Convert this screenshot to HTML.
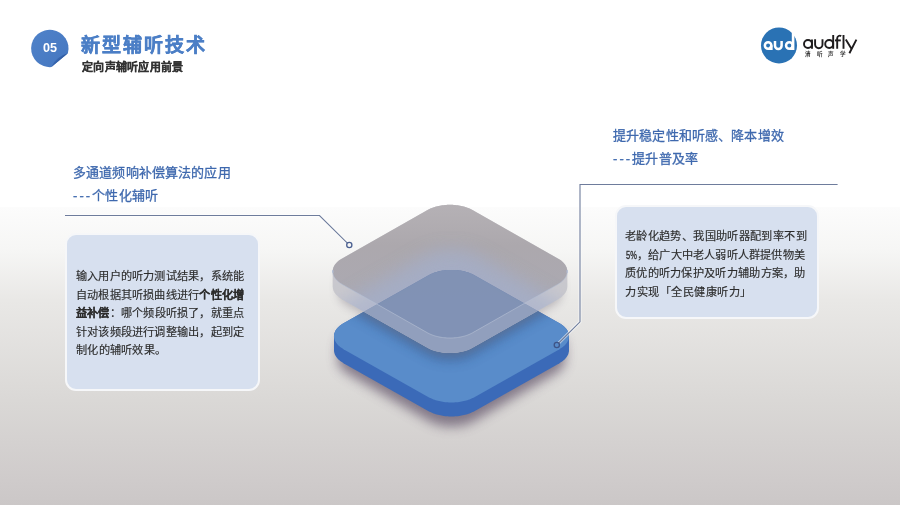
<!DOCTYPE html>
<html lang="zh-CN">
<head>
<meta charset="utf-8">
<style>
html,body{margin:0;padding:0;}
body{width:900px;height:505px;overflow:hidden;position:relative;
  font-family:"Liberation Sans",sans-serif;
  background:linear-gradient(180deg,#ffffff 0px,#ffffff 207px,#fcfcfc 207px,#f6f6f5 250px,#e9e8e6 300px,#dad8d6 400px,#cfcbcb 480px,#cbc7c7 505px);}
.abs{position:absolute;will-change:transform;}
.title{left:81px;top:30px;font-size:19px;font-weight:bold;color:#4c7fc6;white-space:nowrap;letter-spacing:2px;-webkit-text-stroke:0.45px #4c7fc6;}
.sub{left:82px;top:58px;font-size:11px;font-weight:bold;color:#333;white-space:nowrap;letter-spacing:0.25px;-webkit-text-stroke:0.25px #333;}
.h{letter-spacing:0.15px;font-size:13px;color:#3f69ae;white-space:nowrap;line-height:23px;font-weight:500;-webkit-text-stroke:0.3px #3f69ae;}
.dash{letter-spacing:2.1px;}
.box{background:#d7e0ef;border:2px solid #f6f7f9;border-radius:11px;box-sizing:border-box;}
.j{white-space:nowrap;}
.pct{display:inline-block;width:12px;}
.pct i{font-style:normal;display:inline-block;transform:scaleX(0.64);transform-origin:0 0;font-size:11.7px;letter-spacing:0;margin-left:0.8px;-webkit-text-stroke:0.35px #2c2c2c;}
.txt{font-size:11.2px;color:#2c2c2c;line-height:18.6px;-webkit-text-stroke:0.15px #2c2c2c;}
</style>
</head>
<body>
<!-- badge -->
<svg class="abs" style="left:0;top:0" width="900" height="505">
  <defs>
    <linearGradient id="bg05" x1="0" y1="0" x2="1" y2="1">
      <stop offset="0" stop-color="#4f82c9"/>
      <stop offset="1" stop-color="#4577c0"/>
    </linearGradient>
    <linearGradient id="curl" x1="54" y1="56" x2="60" y2="62" gradientUnits="userSpaceOnUse">
      <stop offset="0" stop-color="#4a7cc4"/>
      <stop offset="0.6" stop-color="#3766b0"/>
      <stop offset="1" stop-color="#2a5598"/>
    </linearGradient>
  </defs>
  <path d="M67.9,53.3 A18.7,18.7 0 1 0 51.4,67.1 Z" fill="url(#bg05)"/>
  <path d="M67.9,53.3 L51.4,67.1 Q55.5,56.5 67.9,53.3 Z" fill="url(#curl)"/>
  <text x="50" y="52" font-family="Liberation Sans" font-weight="bold" font-size="12.6" fill="#fff" text-anchor="middle">05</text>
  <!-- logo -->
  <circle cx="779" cy="45.4" r="18" fill="#2a72b4"/>
  <g fill="none" stroke="#fff" stroke-width="2.5">
    <circle cx="768.1" cy="45.5" r="3.25"/>
    <path d="M775,41 V45.7 A3.3 3.3 0 0 0 781.6,45.7 V41"/>
    <circle cx="789.3" cy="45.5" r="3.25"/>
  </g>
  <path d="M770.2,45.5 H772.6 V50.1 H768.1 Z" fill="#fff"/>
  <path d="M791.8,32.6 L794.4,33.6 L794.4,50.1 L789.3,50.1 L791.8,47 Z" fill="#fff"/>
  <g fill="none" stroke="#1e1c1d" stroke-width="1.9">
    <circle cx="808" cy="44" r="4"/>
    <path d="M812,39.6 V48.8"/>
    <path d="M815.1,39.3 V44.5 A3.7 3.7 0 0 0 822.5,44.5 V39.3"/>
    <circle cx="829.2" cy="44" r="4"/>
    <path d="M833.2,35 V48.8"/>
    <path d="M837.2,48.8 V38.2 A2.6 2.6 0 0 1 841.2,36.1"/>
    <path d="M835,40.4 H840.8"/>
    <path d="M843.5,35 V48.8"/>
    <path d="M845.8,39.6 L851.3,48.6 M856.4,39.6 L849.4,53.3"/>
  </g>
  <text x="805" y="56" font-size="5.6" font-weight="bold" fill="#3a3a3a" letter-spacing="5.5">清听声学</text>
</svg>
<div class="abs title">新型辅听技术</div>
<div class="abs sub">定向声辅听应用前景</div>

<svg class="abs" style="left:0;top:0" width="900" height="505">
  <defs>
    <filter id="blur10" x="-50%" y="-50%" width="200%" height="200%"><feGaussianBlur stdDeviation="9"/></filter>
    <filter id="blur8" x="-50%" y="-50%" width="200%" height="200%"><feGaussianBlur stdDeviation="6"/></filter>
    <filter id="blur4" x="-50%" y="-50%" width="200%" height="200%"><feGaussianBlur stdDeviation="5"/></filter>
    <filter id="blur05" x="-10%" y="-10%" width="120%" height="120%"><feGaussianBlur stdDeviation="0.5"/></filter>
    <clipPath id="gclip"><path d="M332.70,271.40 L332.72,270.68 L332.80,269.96 L332.92,269.24 L333.10,268.53 L333.32,267.82 L333.59,267.11 L333.91,266.41 L334.28,265.72 L334.70,265.04 L335.16,264.37 L335.67,263.71 L336.23,263.06 L336.82,262.43 L337.47,261.80 L338.15,261.20 L338.88,260.61 L339.64,260.03 L340.45,259.47 L341.29,258.93 L342.17,258.41 L427.13,210.18 L428.04,209.68 L428.99,209.20 L429.97,208.74 L430.99,208.31 L432.03,207.89 L433.10,207.51 L434.19,207.14 L435.32,206.80 L436.46,206.49 L437.62,206.20 L438.80,205.93 L440.00,205.70 L441.22,205.49 L442.45,205.31 L443.69,205.15 L444.94,205.03 L446.20,204.93 L447.46,204.86 L448.73,204.81 L450.00,204.80 L451.27,204.81 L452.54,204.86 L453.80,204.93 L455.06,205.03 L456.31,205.15 L457.55,205.31 L458.78,205.49 L460.00,205.70 L461.20,205.93 L462.38,206.20 L463.54,206.49 L464.68,206.80 L465.81,207.14 L466.90,207.51 L467.97,207.89 L469.01,208.31 L470.03,208.74 L471.01,209.20 L471.96,209.68 L472.87,210.18 L557.83,258.41 L558.71,258.93 L559.55,259.47 L560.36,260.03 L561.12,260.61 L561.85,261.20 L562.53,261.80 L563.18,262.43 L563.77,263.06 L564.33,263.71 L564.84,264.37 L565.30,265.04 L565.72,265.72 L566.09,266.41 L566.41,267.11 L566.68,267.82 L566.90,268.53 L567.08,269.24 L567.20,269.96 L567.28,270.68 L567.30,271.40 L567.30,286.40 L567.28,287.12 L567.20,287.84 L567.08,288.56 L566.90,289.27 L566.68,289.98 L566.41,290.69 L566.09,291.39 L565.72,292.08 L565.30,292.76 L564.84,293.43 L564.33,294.09 L563.77,294.74 L563.18,295.37 L562.53,296.00 L561.85,296.60 L561.12,297.19 L560.36,297.77 L559.55,298.33 L558.71,298.87 L557.83,299.39 L472.87,347.62 L471.96,348.12 L471.01,348.60 L470.03,349.06 L469.01,349.49 L467.97,349.91 L466.90,350.29 L465.81,350.66 L464.68,351.00 L463.54,351.31 L462.38,351.60 L461.20,351.87 L460.00,352.10 L458.78,352.31 L457.55,352.49 L456.31,352.65 L455.06,352.77 L453.80,352.87 L452.54,352.94 L451.27,352.99 L450.00,353.00 L448.73,352.99 L447.46,352.94 L446.20,352.87 L444.94,352.77 L443.69,352.65 L442.45,352.49 L441.22,352.31 L440.00,352.10 L438.80,351.87 L437.62,351.60 L436.46,351.31 L435.32,351.00 L434.19,350.66 L433.10,350.29 L432.03,349.91 L430.99,349.49 L429.97,349.06 L428.99,348.60 L428.04,348.12 L427.13,347.62 L342.17,299.39 L341.29,298.87 L340.45,298.33 L339.64,297.77 L338.88,297.19 L338.15,296.60 L337.47,296.00 L336.82,295.37 L336.23,294.74 L335.67,294.09 L335.16,293.43 L334.70,292.76 L334.28,292.08 L333.91,291.39 L333.59,290.69 L333.32,289.98 L333.10,289.27 L332.92,288.56 L332.80,287.84 L332.72,287.12 L332.70,286.40 Z"/></clipPath>
    <linearGradient id="gface" x1="0" y1="205" x2="0" y2="340" gradientUnits="userSpaceOnUse">
      <stop offset="0" stop-color="#b5b1b5"/>
      <stop offset="0.3" stop-color="#aca8ad"/>
      <stop offset="1" stop-color="#aaaab6"/>
    </linearGradient>
    <radialGradient id="glow" cx="451" cy="300" r="70" gradientUnits="userSpaceOnUse" gradientTransform="translate(451 300) scale(1.6 1) translate(-451 -300)">
      <stop offset="0" stop-color="#a8b8d8" stop-opacity="0.9"/>
      <stop offset="0.6" stop-color="#a8b4d0" stop-opacity="0.6"/>
      <stop offset="1" stop-color="#a8b0c8" stop-opacity="0"/>
    </radialGradient>
  </defs>
  <path d="M338.00,346.20 L338.02,345.48 L338.10,344.77 L338.22,344.05 L338.39,343.34 L338.60,342.63 L338.86,341.93 L339.17,341.24 L339.53,340.55 L339.93,339.87 L340.38,339.20 L340.87,338.55 L341.41,337.90 L341.99,337.27 L342.61,336.65 L343.27,336.04 L343.98,335.45 L344.72,334.88 L345.50,334.33 L346.31,333.79 L347.17,333.27 L429.37,285.25 L430.25,284.76 L431.17,284.28 L432.12,283.82 L433.10,283.39 L434.11,282.98 L435.15,282.59 L436.21,282.23 L437.29,281.89 L438.40,281.58 L439.52,281.29 L440.67,281.03 L441.83,280.79 L443.00,280.59 L444.19,280.40 L445.39,280.25 L446.60,280.12 L447.82,280.03 L449.04,279.96 L450.27,279.91 L451.50,279.90 L452.73,279.91 L453.96,279.96 L455.18,280.03 L456.40,280.12 L457.61,280.25 L458.81,280.40 L460.00,280.59 L461.17,280.79 L462.33,281.03 L463.48,281.29 L464.60,281.58 L465.71,281.89 L466.79,282.23 L467.85,282.59 L468.89,282.98 L469.90,283.39 L470.88,283.82 L471.83,284.28 L472.75,284.76 L473.63,285.25 L555.83,333.27 L556.69,333.79 L557.50,334.33 L558.28,334.88 L559.02,335.45 L559.73,336.04 L560.39,336.65 L561.01,337.27 L561.59,337.90 L562.13,338.55 L562.62,339.20 L563.07,339.87 L563.47,340.55 L563.83,341.24 L564.14,341.93 L564.40,342.63 L564.61,343.34 L564.78,344.05 L564.90,344.77 L564.98,345.48 L565.00,346.20 L565.00,360.20 L564.98,360.92 L564.90,361.63 L564.78,362.35 L564.61,363.06 L564.40,363.77 L564.14,364.47 L563.83,365.16 L563.47,365.85 L563.07,366.53 L562.62,367.20 L562.13,367.85 L561.59,368.50 L561.01,369.13 L560.39,369.75 L559.73,370.36 L559.02,370.95 L558.28,371.52 L557.50,372.07 L556.69,372.61 L555.83,373.13 L473.63,421.15 L472.75,421.64 L471.83,422.12 L470.88,422.58 L469.90,423.01 L468.89,423.42 L467.85,423.81 L466.79,424.17 L465.71,424.51 L464.60,424.82 L463.48,425.11 L462.33,425.37 L461.17,425.61 L460.00,425.81 L458.81,426.00 L457.61,426.15 L456.40,426.28 L455.18,426.37 L453.96,426.44 L452.73,426.49 L451.50,426.50 L450.27,426.49 L449.04,426.44 L447.82,426.37 L446.60,426.28 L445.39,426.15 L444.19,426.00 L443.00,425.81 L441.83,425.61 L440.67,425.37 L439.52,425.11 L438.40,424.82 L437.29,424.51 L436.21,424.17 L435.15,423.81 L434.11,423.42 L433.10,423.01 L432.12,422.58 L431.17,422.12 L430.25,421.64 L429.37,421.15 L347.17,373.13 L346.31,372.61 L345.50,372.07 L344.72,371.52 L343.98,370.95 L343.27,370.36 L342.61,369.75 L341.99,369.13 L341.41,368.50 L340.87,367.85 L340.38,367.20 L339.93,366.53 L339.53,365.85 L339.17,365.16 L338.86,364.47 L338.60,363.77 L338.39,363.06 L338.22,362.35 L338.10,361.63 L338.02,360.92 L338.00,360.20 Z" fill="#5d4f66" opacity="0.7" filter="url(#blur8)"/>
  <path d="M334.00,336.20 L334.02,335.48 L334.10,334.77 L334.22,334.05 L334.40,333.34 L334.62,332.63 L334.89,331.93 L335.22,331.24 L335.59,330.55 L336.00,329.87 L336.47,329.20 L336.98,328.55 L337.53,327.90 L338.13,327.27 L338.77,326.65 L339.46,326.04 L340.19,325.45 L340.96,324.88 L341.76,324.33 L342.61,323.79 L343.49,323.27 L428.59,275.25 L429.51,274.76 L430.46,274.28 L431.44,273.82 L432.45,273.39 L433.50,272.98 L434.57,272.59 L435.67,272.23 L436.79,271.89 L437.93,271.58 L439.10,271.29 L440.29,271.03 L441.49,270.79 L442.70,270.59 L443.94,270.40 L445.18,270.25 L446.43,270.12 L447.69,270.03 L448.96,269.96 L450.23,269.91 L451.50,269.90 L452.77,269.91 L454.04,269.96 L455.31,270.03 L456.57,270.12 L457.82,270.25 L459.06,270.40 L460.30,270.59 L461.51,270.79 L462.71,271.03 L463.90,271.29 L465.07,271.58 L466.21,271.89 L467.33,272.23 L468.43,272.59 L469.50,272.98 L470.55,273.39 L471.56,273.82 L472.54,274.28 L473.49,274.76 L474.41,275.25 L559.51,323.27 L560.39,323.79 L561.24,324.33 L562.04,324.88 L562.81,325.45 L563.54,326.04 L564.23,326.65 L564.87,327.27 L565.47,327.90 L566.02,328.55 L566.53,329.20 L567.00,329.87 L567.41,330.55 L567.78,331.24 L568.11,331.93 L568.38,332.63 L568.60,333.34 L568.78,334.05 L568.90,334.77 L568.98,335.48 L569.00,336.20 L569.00,350.20 L568.98,350.92 L568.90,351.63 L568.78,352.35 L568.60,353.06 L568.38,353.77 L568.11,354.47 L567.78,355.16 L567.41,355.85 L567.00,356.53 L566.53,357.20 L566.02,357.85 L565.47,358.50 L564.87,359.13 L564.23,359.75 L563.54,360.36 L562.81,360.95 L562.04,361.52 L561.24,362.07 L560.39,362.61 L559.51,363.13 L474.41,411.15 L473.49,411.64 L472.54,412.12 L471.56,412.58 L470.55,413.01 L469.50,413.42 L468.43,413.81 L467.33,414.17 L466.21,414.51 L465.07,414.82 L463.90,415.11 L462.71,415.37 L461.51,415.61 L460.30,415.81 L459.06,416.00 L457.82,416.15 L456.57,416.28 L455.31,416.37 L454.04,416.44 L452.77,416.49 L451.50,416.50 L450.23,416.49 L448.96,416.44 L447.69,416.37 L446.43,416.28 L445.18,416.15 L443.94,416.00 L442.70,415.81 L441.49,415.61 L440.29,415.37 L439.10,415.11 L437.93,414.82 L436.79,414.51 L435.67,414.17 L434.57,413.81 L433.50,413.42 L432.45,413.01 L431.44,412.58 L430.46,412.12 L429.51,411.64 L428.59,411.15 L343.49,363.13 L342.61,362.61 L341.76,362.07 L340.96,361.52 L340.19,360.95 L339.46,360.36 L338.77,359.75 L338.13,359.13 L337.53,358.50 L336.98,357.85 L336.47,357.20 L336.00,356.53 L335.59,355.85 L335.22,355.16 L334.89,354.47 L334.62,353.77 L334.40,353.06 L334.22,352.35 L334.10,351.63 L334.02,350.92 L334.00,350.20 Z" fill="#3b6ab8"/>
  <path d="M559.51,323.27 L560.39,323.79 L561.24,324.33 L562.04,324.88 L562.81,325.45 L563.54,326.04 L564.23,326.65 L564.87,327.27 L565.47,327.90 L566.02,328.55 L566.53,329.20 L567.00,329.87 L567.41,330.55 L567.78,331.24 L568.11,331.93 L568.38,332.63 L568.60,333.34 L568.78,334.05 L568.90,334.77 L568.98,335.48 L569.00,336.20 L568.98,336.92 L568.90,337.63 L568.78,338.35 L568.60,339.06 L568.38,339.77 L568.11,340.47 L567.78,341.16 L567.41,341.85 L567.00,342.53 L566.53,343.20 L566.02,343.85 L565.47,344.50 L564.87,345.13 L564.23,345.75 L563.54,346.36 L562.81,346.95 L562.04,347.52 L561.24,348.07 L560.39,348.61 L559.51,349.13 L474.41,397.15 L473.49,397.64 L472.54,398.12 L471.56,398.58 L470.55,399.01 L469.50,399.42 L468.43,399.81 L467.33,400.17 L466.21,400.51 L465.07,400.82 L463.90,401.11 L462.71,401.37 L461.51,401.61 L460.30,401.81 L459.06,402.00 L457.82,402.15 L456.57,402.28 L455.31,402.37 L454.04,402.44 L452.77,402.49 L451.50,402.50 L450.23,402.49 L448.96,402.44 L447.69,402.37 L446.43,402.28 L445.18,402.15 L443.94,402.00 L442.70,401.81 L441.49,401.61 L440.29,401.37 L439.10,401.11 L437.93,400.82 L436.79,400.51 L435.67,400.17 L434.57,399.81 L433.50,399.42 L432.45,399.01 L431.44,398.58 L430.46,398.12 L429.51,397.64 L428.59,397.15 L343.49,349.13 L342.61,348.61 L341.76,348.07 L340.96,347.52 L340.19,346.95 L339.46,346.36 L338.77,345.75 L338.13,345.13 L337.53,344.50 L336.98,343.85 L336.47,343.20 L336.00,342.53 L335.59,341.85 L335.22,341.16 L334.89,340.47 L334.62,339.77 L334.40,339.06 L334.22,338.35 L334.10,337.63 L334.02,336.92 L334.00,336.20 L334.02,335.48 L334.10,334.77 L334.22,334.05 L334.40,333.34 L334.62,332.63 L334.89,331.93 L335.22,331.24 L335.59,330.55 L336.00,329.87 L336.47,329.20 L336.98,328.55 L337.53,327.90 L338.13,327.27 L338.77,326.65 L339.46,326.04 L340.19,325.45 L340.96,324.88 L341.76,324.33 L342.61,323.79 L343.49,323.27 L428.59,275.25 L429.51,274.76 L430.46,274.28 L431.44,273.82 L432.45,273.39 L433.50,272.98 L434.57,272.59 L435.67,272.23 L436.79,271.89 L437.93,271.58 L439.10,271.29 L440.29,271.03 L441.49,270.79 L442.70,270.59 L443.94,270.40 L445.18,270.25 L446.43,270.12 L447.69,270.03 L448.96,269.96 L450.23,269.91 L451.50,269.90 L452.77,269.91 L454.04,269.96 L455.31,270.03 L456.57,270.12 L457.82,270.25 L459.06,270.40 L460.30,270.59 L461.51,270.79 L462.71,271.03 L463.90,271.29 L465.07,271.58 L466.21,271.89 L467.33,272.23 L468.43,272.59 L469.50,272.98 L470.55,273.39 L471.56,273.82 L472.54,274.28 L473.49,274.76 L474.41,275.25 Z" fill="#598cca"/>
  <clipPath id="bclip"><path d="M559.51,323.27 L560.39,323.79 L561.24,324.33 L562.04,324.88 L562.81,325.45 L563.54,326.04 L564.23,326.65 L564.87,327.27 L565.47,327.90 L566.02,328.55 L566.53,329.20 L567.00,329.87 L567.41,330.55 L567.78,331.24 L568.11,331.93 L568.38,332.63 L568.60,333.34 L568.78,334.05 L568.90,334.77 L568.98,335.48 L569.00,336.20 L568.98,336.92 L568.90,337.63 L568.78,338.35 L568.60,339.06 L568.38,339.77 L568.11,340.47 L567.78,341.16 L567.41,341.85 L567.00,342.53 L566.53,343.20 L566.02,343.85 L565.47,344.50 L564.87,345.13 L564.23,345.75 L563.54,346.36 L562.81,346.95 L562.04,347.52 L561.24,348.07 L560.39,348.61 L559.51,349.13 L474.41,397.15 L473.49,397.64 L472.54,398.12 L471.56,398.58 L470.55,399.01 L469.50,399.42 L468.43,399.81 L467.33,400.17 L466.21,400.51 L465.07,400.82 L463.90,401.11 L462.71,401.37 L461.51,401.61 L460.30,401.81 L459.06,402.00 L457.82,402.15 L456.57,402.28 L455.31,402.37 L454.04,402.44 L452.77,402.49 L451.50,402.50 L450.23,402.49 L448.96,402.44 L447.69,402.37 L446.43,402.28 L445.18,402.15 L443.94,402.00 L442.70,401.81 L441.49,401.61 L440.29,401.37 L439.10,401.11 L437.93,400.82 L436.79,400.51 L435.67,400.17 L434.57,399.81 L433.50,399.42 L432.45,399.01 L431.44,398.58 L430.46,398.12 L429.51,397.64 L428.59,397.15 L343.49,349.13 L342.61,348.61 L341.76,348.07 L340.96,347.52 L340.19,346.95 L339.46,346.36 L338.77,345.75 L338.13,345.13 L337.53,344.50 L336.98,343.85 L336.47,343.20 L336.00,342.53 L335.59,341.85 L335.22,341.16 L334.89,340.47 L334.62,339.77 L334.40,339.06 L334.22,338.35 L334.10,337.63 L334.02,336.92 L334.00,336.20 L334.02,335.48 L334.10,334.77 L334.22,334.05 L334.40,333.34 L334.62,332.63 L334.89,331.93 L335.22,331.24 L335.59,330.55 L336.00,329.87 L336.47,329.20 L336.98,328.55 L337.53,327.90 L338.13,327.27 L338.77,326.65 L339.46,326.04 L340.19,325.45 L340.96,324.88 L341.76,324.33 L342.61,323.79 L343.49,323.27 L428.59,275.25 L429.51,274.76 L430.46,274.28 L431.44,273.82 L432.45,273.39 L433.50,272.98 L434.57,272.59 L435.67,272.23 L436.79,271.89 L437.93,271.58 L439.10,271.29 L440.29,271.03 L441.49,270.79 L442.70,270.59 L443.94,270.40 L445.18,270.25 L446.43,270.12 L447.69,270.03 L448.96,269.96 L450.23,269.91 L451.50,269.90 L452.77,269.91 L454.04,269.96 L455.31,270.03 L456.57,270.12 L457.82,270.25 L459.06,270.40 L460.30,270.59 L461.51,270.79 L462.71,271.03 L463.90,271.29 L465.07,271.58 L466.21,271.89 L467.33,272.23 L468.43,272.59 L469.50,272.98 L470.55,273.39 L471.56,273.82 L472.54,274.28 L473.49,274.76 L474.41,275.25 Z"/></clipPath>
  <g clip-path="url(#bclip)"><path d="M334.70,279.40 L334.72,278.68 L334.80,277.96 L334.92,277.24 L335.09,276.53 L335.31,275.82 L335.58,275.11 L335.89,274.41 L336.26,273.72 L336.66,273.04 L337.12,272.37 L337.62,271.71 L338.17,271.06 L338.75,270.43 L339.38,269.80 L340.06,269.20 L340.77,268.61 L341.53,268.03 L342.32,267.47 L343.15,266.93 L344.01,266.41 L427.52,218.18 L428.42,217.68 L429.35,217.20 L430.32,216.74 L431.31,216.31 L432.34,215.89 L433.39,215.51 L434.46,215.14 L435.57,214.80 L436.69,214.49 L437.83,214.20 L439.00,213.93 L440.17,213.70 L441.37,213.49 L442.58,213.31 L443.80,213.15 L445.03,213.03 L446.26,212.93 L447.51,212.86 L448.75,212.81 L450.00,212.80 L451.25,212.81 L452.49,212.86 L453.74,212.93 L454.97,213.03 L456.20,213.15 L457.42,213.31 L458.63,213.49 L459.83,213.70 L461.00,213.93 L462.17,214.20 L463.31,214.49 L464.43,214.80 L465.54,215.14 L466.61,215.51 L467.66,215.89 L468.69,216.31 L469.68,216.74 L470.65,217.20 L471.58,217.68 L472.48,218.18 L555.99,266.41 L556.85,266.93 L557.68,267.47 L558.47,268.03 L559.23,268.61 L559.94,269.20 L560.62,269.80 L561.25,270.43 L561.83,271.06 L562.38,271.71 L562.88,272.37 L563.34,273.04 L563.74,273.72 L564.11,274.41 L564.42,275.11 L564.69,275.82 L564.91,276.53 L565.08,277.24 L565.20,277.96 L565.28,278.68 L565.30,279.40 L565.30,294.40 L565.28,295.12 L565.20,295.84 L565.08,296.56 L564.91,297.27 L564.69,297.98 L564.42,298.69 L564.11,299.39 L563.74,300.08 L563.34,300.76 L562.88,301.43 L562.38,302.09 L561.83,302.74 L561.25,303.37 L560.62,304.00 L559.94,304.60 L559.23,305.19 L558.47,305.77 L557.68,306.33 L556.85,306.87 L555.99,307.39 L472.48,355.62 L471.58,356.12 L470.65,356.60 L469.68,357.06 L468.69,357.49 L467.66,357.91 L466.61,358.29 L465.54,358.66 L464.43,359.00 L463.31,359.31 L462.17,359.60 L461.00,359.87 L459.83,360.10 L458.63,360.31 L457.42,360.49 L456.20,360.65 L454.97,360.77 L453.74,360.87 L452.49,360.94 L451.25,360.99 L450.00,361.00 L448.75,360.99 L447.51,360.94 L446.26,360.87 L445.03,360.77 L443.80,360.65 L442.58,360.49 L441.37,360.31 L440.17,360.10 L439.00,359.87 L437.83,359.60 L436.69,359.31 L435.57,359.00 L434.46,358.66 L433.39,358.29 L432.34,357.91 L431.31,357.49 L430.32,357.06 L429.35,356.60 L428.42,356.12 L427.52,355.62 L344.01,307.39 L343.15,306.87 L342.32,306.33 L341.53,305.77 L340.77,305.19 L340.06,304.60 L339.38,304.00 L338.75,303.37 L338.17,302.74 L337.62,302.09 L337.12,301.43 L336.66,300.76 L336.26,300.08 L335.89,299.39 L335.58,298.69 L335.31,297.98 L335.09,297.27 L334.92,296.56 L334.80,295.84 L334.72,295.12 L334.70,294.40 Z" fill="#24457a" opacity="0.4" filter="url(#blur8)"/></g>
  <path d="M338.70,279.40 L338.72,278.72 L338.79,278.05 L338.91,277.37 L339.08,276.70 L339.29,276.03 L339.55,275.37 L339.85,274.71 L340.20,274.07 L340.60,273.43 L341.04,272.79 L341.52,272.17 L342.04,271.56 L342.61,270.97 L343.22,270.38 L343.87,269.81 L344.56,269.25 L345.29,268.71 L346.05,268.19 L346.85,267.68 L347.69,267.19 L428.30,221.86 L429.17,221.39 L430.07,220.94 L431.00,220.51 L431.96,220.10 L432.95,219.71 L433.96,219.34 L435.00,219.00 L436.07,218.68 L437.15,218.39 L438.25,218.11 L439.38,217.87 L440.52,217.64 L441.67,217.45 L442.84,217.28 L444.01,217.13 L445.20,217.01 L446.39,216.92 L447.59,216.85 L448.80,216.81 L450.00,216.80 L451.20,216.81 L452.41,216.85 L453.61,216.92 L454.80,217.01 L455.99,217.13 L457.16,217.28 L458.33,217.45 L459.48,217.64 L460.62,217.87 L461.75,218.11 L462.85,218.39 L463.93,218.68 L465.00,219.00 L466.04,219.34 L467.05,219.71 L468.04,220.10 L469.00,220.51 L469.93,220.94 L470.83,221.39 L471.70,221.86 L552.31,267.19 L553.15,267.68 L553.95,268.19 L554.71,268.71 L555.44,269.25 L556.13,269.81 L556.78,270.38 L557.39,270.97 L557.96,271.56 L558.48,272.17 L558.96,272.79 L559.40,273.43 L559.80,274.07 L560.15,274.71 L560.45,275.37 L560.71,276.03 L560.92,276.70 L561.09,277.37 L561.21,278.05 L561.28,278.72 L561.30,279.40 L561.30,293.40 L561.28,294.08 L561.21,294.75 L561.09,295.43 L560.92,296.10 L560.71,296.77 L560.45,297.43 L560.15,298.09 L559.80,298.73 L559.40,299.37 L558.96,300.01 L558.48,300.63 L557.96,301.24 L557.39,301.83 L556.78,302.42 L556.13,302.99 L555.44,303.55 L554.71,304.09 L553.95,304.61 L553.15,305.12 L552.31,305.61 L471.70,350.94 L470.83,351.41 L469.93,351.86 L469.00,352.29 L468.04,352.70 L467.05,353.09 L466.04,353.46 L465.00,353.80 L463.93,354.12 L462.85,354.41 L461.75,354.69 L460.62,354.93 L459.48,355.16 L458.33,355.35 L457.16,355.52 L455.99,355.67 L454.80,355.79 L453.61,355.88 L452.41,355.95 L451.20,355.99 L450.00,356.00 L448.80,355.99 L447.59,355.95 L446.39,355.88 L445.20,355.79 L444.01,355.67 L442.84,355.52 L441.67,355.35 L440.52,355.16 L439.38,354.93 L438.25,354.69 L437.15,354.41 L436.07,354.12 L435.00,353.80 L433.96,353.46 L432.95,353.09 L431.96,352.70 L431.00,352.29 L430.07,351.86 L429.17,351.41 L428.30,350.94 L347.69,305.61 L346.85,305.12 L346.05,304.61 L345.29,304.09 L344.56,303.55 L343.87,302.99 L343.22,302.42 L342.61,301.83 L342.04,301.24 L341.52,300.63 L341.04,300.01 L340.60,299.37 L340.20,298.73 L339.85,298.09 L339.55,297.43 L339.29,296.77 L339.08,296.10 L338.91,295.43 L338.79,294.75 L338.72,294.08 L338.70,293.40 Z" fill="#7c7480" opacity="0.45" filter="url(#blur4)"/>
  <path d="M332.70,271.40 L332.72,270.68 L332.80,269.96 L332.92,269.24 L333.10,268.53 L333.32,267.82 L333.59,267.11 L333.91,266.41 L334.28,265.72 L334.70,265.04 L335.16,264.37 L335.67,263.71 L336.23,263.06 L336.82,262.43 L337.47,261.80 L338.15,261.20 L338.88,260.61 L339.64,260.03 L340.45,259.47 L341.29,258.93 L342.17,258.41 L427.13,210.18 L428.04,209.68 L428.99,209.20 L429.97,208.74 L430.99,208.31 L432.03,207.89 L433.10,207.51 L434.19,207.14 L435.32,206.80 L436.46,206.49 L437.62,206.20 L438.80,205.93 L440.00,205.70 L441.22,205.49 L442.45,205.31 L443.69,205.15 L444.94,205.03 L446.20,204.93 L447.46,204.86 L448.73,204.81 L450.00,204.80 L451.27,204.81 L452.54,204.86 L453.80,204.93 L455.06,205.03 L456.31,205.15 L457.55,205.31 L458.78,205.49 L460.00,205.70 L461.20,205.93 L462.38,206.20 L463.54,206.49 L464.68,206.80 L465.81,207.14 L466.90,207.51 L467.97,207.89 L469.01,208.31 L470.03,208.74 L471.01,209.20 L471.96,209.68 L472.87,210.18 L557.83,258.41 L558.71,258.93 L559.55,259.47 L560.36,260.03 L561.12,260.61 L561.85,261.20 L562.53,261.80 L563.18,262.43 L563.77,263.06 L564.33,263.71 L564.84,264.37 L565.30,265.04 L565.72,265.72 L566.09,266.41 L566.41,267.11 L566.68,267.82 L566.90,268.53 L567.08,269.24 L567.20,269.96 L567.28,270.68 L567.30,271.40 L567.30,286.40 L567.28,287.12 L567.20,287.84 L567.08,288.56 L566.90,289.27 L566.68,289.98 L566.41,290.69 L566.09,291.39 L565.72,292.08 L565.30,292.76 L564.84,293.43 L564.33,294.09 L563.77,294.74 L563.18,295.37 L562.53,296.00 L561.85,296.60 L561.12,297.19 L560.36,297.77 L559.55,298.33 L558.71,298.87 L557.83,299.39 L472.87,347.62 L471.96,348.12 L471.01,348.60 L470.03,349.06 L469.01,349.49 L467.97,349.91 L466.90,350.29 L465.81,350.66 L464.68,351.00 L463.54,351.31 L462.38,351.60 L461.20,351.87 L460.00,352.10 L458.78,352.31 L457.55,352.49 L456.31,352.65 L455.06,352.77 L453.80,352.87 L452.54,352.94 L451.27,352.99 L450.00,353.00 L448.73,352.99 L447.46,352.94 L446.20,352.87 L444.94,352.77 L443.69,352.65 L442.45,352.49 L441.22,352.31 L440.00,352.10 L438.80,351.87 L437.62,351.60 L436.46,351.31 L435.32,351.00 L434.19,350.66 L433.10,350.29 L432.03,349.91 L430.99,349.49 L429.97,349.06 L428.99,348.60 L428.04,348.12 L427.13,347.62 L342.17,299.39 L341.29,298.87 L340.45,298.33 L339.64,297.77 L338.88,297.19 L338.15,296.60 L337.47,296.00 L336.82,295.37 L336.23,294.74 L335.67,294.09 L335.16,293.43 L334.70,292.76 L334.28,292.08 L333.91,291.39 L333.59,290.69 L333.32,289.98 L333.10,289.27 L332.92,288.56 L332.80,287.84 L332.72,287.12 L332.70,286.40 Z" fill="#cac9cd"/>
  <path d="M557.83,258.41 L558.71,258.93 L559.55,259.47 L560.36,260.03 L561.12,260.61 L561.85,261.20 L562.53,261.80 L563.18,262.43 L563.77,263.06 L564.33,263.71 L564.84,264.37 L565.30,265.04 L565.72,265.72 L566.09,266.41 L566.41,267.11 L566.68,267.82 L566.90,268.53 L567.08,269.24 L567.20,269.96 L567.28,270.68 L567.30,271.40 L567.28,272.12 L567.20,272.84 L567.08,273.56 L566.90,274.27 L566.68,274.98 L566.41,275.69 L566.09,276.39 L565.72,277.08 L565.30,277.76 L564.84,278.43 L564.33,279.09 L563.77,279.74 L563.18,280.37 L562.53,281.00 L561.85,281.60 L561.12,282.19 L560.36,282.77 L559.55,283.33 L558.71,283.87 L557.83,284.39 L472.87,332.62 L471.96,333.12 L471.01,333.60 L470.03,334.06 L469.01,334.49 L467.97,334.91 L466.90,335.29 L465.81,335.66 L464.68,336.00 L463.54,336.31 L462.38,336.60 L461.20,336.87 L460.00,337.10 L458.78,337.31 L457.55,337.49 L456.31,337.65 L455.06,337.77 L453.80,337.87 L452.54,337.94 L451.27,337.99 L450.00,338.00 L448.73,337.99 L447.46,337.94 L446.20,337.87 L444.94,337.77 L443.69,337.65 L442.45,337.49 L441.22,337.31 L440.00,337.10 L438.80,336.87 L437.62,336.60 L436.46,336.31 L435.32,336.00 L434.19,335.66 L433.10,335.29 L432.03,334.91 L430.99,334.49 L429.97,334.06 L428.99,333.60 L428.04,333.12 L427.13,332.62 L342.17,284.39 L341.29,283.87 L340.45,283.33 L339.64,282.77 L338.88,282.19 L338.15,281.60 L337.47,281.00 L336.82,280.37 L336.23,279.74 L335.67,279.09 L335.16,278.43 L334.70,277.76 L334.28,277.08 L333.91,276.39 L333.59,275.69 L333.32,274.98 L333.10,274.27 L332.92,273.56 L332.80,272.84 L332.72,272.12 L332.70,271.40 L332.72,270.68 L332.80,269.96 L332.92,269.24 L333.10,268.53 L333.32,267.82 L333.59,267.11 L333.91,266.41 L334.28,265.72 L334.70,265.04 L335.16,264.37 L335.67,263.71 L336.23,263.06 L336.82,262.43 L337.47,261.80 L338.15,261.20 L338.88,260.61 L339.64,260.03 L340.45,259.47 L341.29,258.93 L342.17,258.41 L427.13,210.18 L428.04,209.68 L428.99,209.20 L429.97,208.74 L430.99,208.31 L432.03,207.89 L433.10,207.51 L434.19,207.14 L435.32,206.80 L436.46,206.49 L437.62,206.20 L438.80,205.93 L440.00,205.70 L441.22,205.49 L442.45,205.31 L443.69,205.15 L444.94,205.03 L446.20,204.93 L447.46,204.86 L448.73,204.81 L450.00,204.80 L451.27,204.81 L452.54,204.86 L453.80,204.93 L455.06,205.03 L456.31,205.15 L457.55,205.31 L458.78,205.49 L460.00,205.70 L461.20,205.93 L462.38,206.20 L463.54,206.49 L464.68,206.80 L465.81,207.14 L466.90,207.51 L467.97,207.89 L469.01,208.31 L470.03,208.74 L471.01,209.20 L471.96,209.68 L472.87,210.18 Z" fill="url(#gface)"/>
  <g clip-path="url(#gclip)"><path d="M579.73,314.54 L580.78,315.17 L581.78,315.82 L582.74,316.49 L583.65,317.18 L584.52,317.90 L585.33,318.63 L586.10,319.38 L586.81,320.15 L587.47,320.93 L588.07,321.73 L588.62,322.54 L589.12,323.36 L589.56,324.19 L589.94,325.03 L590.26,325.88 L590.53,326.74 L590.73,327.60 L590.88,328.46 L590.97,329.33 L591.00,330.20 L590.97,331.07 L590.88,331.94 L590.73,332.80 L590.53,333.66 L590.26,334.52 L589.94,335.37 L589.56,336.21 L589.12,337.04 L588.62,337.86 L588.07,338.67 L587.47,339.47 L586.81,340.25 L586.10,341.02 L585.33,341.77 L584.52,342.50 L583.65,343.22 L582.74,343.91 L581.78,344.58 L580.78,345.23 L579.73,345.86 L478.70,404.01 L477.61,404.62 L476.48,405.19 L475.32,405.75 L474.11,406.27 L472.87,406.77 L471.60,407.24 L470.30,407.68 L468.96,408.09 L467.61,408.47 L466.22,408.81 L464.81,409.13 L463.39,409.42 L461.94,409.67 L460.48,409.89 L459.00,410.07 L457.52,410.23 L456.02,410.35 L454.52,410.43 L453.01,410.48 L451.50,410.50 L449.99,410.48 L448.48,410.43 L446.98,410.35 L445.48,410.23 L444.00,410.07 L442.52,409.89 L441.06,409.67 L439.61,409.42 L438.19,409.13 L436.78,408.81 L435.39,408.47 L434.04,408.09 L432.70,407.68 L431.40,407.24 L430.13,406.77 L428.89,406.27 L427.68,405.75 L426.52,405.19 L425.39,404.62 L424.30,404.01 L323.27,345.86 L322.22,345.23 L321.22,344.58 L320.26,343.91 L319.35,343.22 L318.48,342.50 L317.67,341.77 L316.90,341.02 L316.19,340.25 L315.53,339.47 L314.93,338.67 L314.38,337.86 L313.88,337.04 L313.44,336.21 L313.06,335.37 L312.74,334.52 L312.47,333.66 L312.27,332.80 L312.12,331.94 L312.03,331.07 L312.00,330.20 L312.03,329.33 L312.12,328.46 L312.27,327.60 L312.47,326.74 L312.74,325.88 L313.06,325.03 L313.44,324.19 L313.88,323.36 L314.38,322.54 L314.93,321.73 L315.53,320.93 L316.19,320.15 L316.90,319.38 L317.67,318.63 L318.48,317.90 L319.35,317.18 L320.26,316.49 L321.22,315.82 L322.22,315.17 L323.27,314.54 L424.30,256.39 L425.39,255.78 L426.52,255.21 L427.68,254.65 L428.89,254.13 L430.13,253.63 L431.40,253.16 L432.70,252.72 L434.04,252.31 L435.39,251.93 L436.78,251.59 L438.19,251.27 L439.61,250.98 L441.06,250.73 L442.52,250.51 L444.00,250.33 L445.48,250.17 L446.98,250.05 L448.48,249.97 L449.99,249.92 L451.50,249.90 L453.01,249.92 L454.52,249.97 L456.02,250.05 L457.52,250.17 L459.00,250.33 L460.48,250.51 L461.94,250.73 L463.39,250.98 L464.81,251.27 L466.22,251.59 L467.61,251.93 L468.96,252.31 L470.30,252.72 L471.60,253.16 L472.87,253.63 L474.11,254.13 L475.32,254.65 L476.48,255.21 L477.61,255.78 L478.70,256.39 Z" fill="#a3aecb" opacity="0.75" filter="url(#blur10)"/></g>
  <g clip-path="url(#gclip)" opacity="0.6" filter="url(#blur05)">
    <path d="M334.00,336.20 L334.02,335.48 L334.10,334.77 L334.22,334.05 L334.40,333.34 L334.62,332.63 L334.89,331.93 L335.22,331.24 L335.59,330.55 L336.00,329.87 L336.47,329.20 L336.98,328.55 L337.53,327.90 L338.13,327.27 L338.77,326.65 L339.46,326.04 L340.19,325.45 L340.96,324.88 L341.76,324.33 L342.61,323.79 L343.49,323.27 L428.59,275.25 L429.51,274.76 L430.46,274.28 L431.44,273.82 L432.45,273.39 L433.50,272.98 L434.57,272.59 L435.67,272.23 L436.79,271.89 L437.93,271.58 L439.10,271.29 L440.29,271.03 L441.49,270.79 L442.70,270.59 L443.94,270.40 L445.18,270.25 L446.43,270.12 L447.69,270.03 L448.96,269.96 L450.23,269.91 L451.50,269.90 L452.77,269.91 L454.04,269.96 L455.31,270.03 L456.57,270.12 L457.82,270.25 L459.06,270.40 L460.30,270.59 L461.51,270.79 L462.71,271.03 L463.90,271.29 L465.07,271.58 L466.21,271.89 L467.33,272.23 L468.43,272.59 L469.50,272.98 L470.55,273.39 L471.56,273.82 L472.54,274.28 L473.49,274.76 L474.41,275.25 L559.51,323.27 L560.39,323.79 L561.24,324.33 L562.04,324.88 L562.81,325.45 L563.54,326.04 L564.23,326.65 L564.87,327.27 L565.47,327.90 L566.02,328.55 L566.53,329.20 L567.00,329.87 L567.41,330.55 L567.78,331.24 L568.11,331.93 L568.38,332.63 L568.60,333.34 L568.78,334.05 L568.90,334.77 L568.98,335.48 L569.00,336.20 L569.00,350.20 L568.98,350.92 L568.90,351.63 L568.78,352.35 L568.60,353.06 L568.38,353.77 L568.11,354.47 L567.78,355.16 L567.41,355.85 L567.00,356.53 L566.53,357.20 L566.02,357.85 L565.47,358.50 L564.87,359.13 L564.23,359.75 L563.54,360.36 L562.81,360.95 L562.04,361.52 L561.24,362.07 L560.39,362.61 L559.51,363.13 L474.41,411.15 L473.49,411.64 L472.54,412.12 L471.56,412.58 L470.55,413.01 L469.50,413.42 L468.43,413.81 L467.33,414.17 L466.21,414.51 L465.07,414.82 L463.90,415.11 L462.71,415.37 L461.51,415.61 L460.30,415.81 L459.06,416.00 L457.82,416.15 L456.57,416.28 L455.31,416.37 L454.04,416.44 L452.77,416.49 L451.50,416.50 L450.23,416.49 L448.96,416.44 L447.69,416.37 L446.43,416.28 L445.18,416.15 L443.94,416.00 L442.70,415.81 L441.49,415.61 L440.29,415.37 L439.10,415.11 L437.93,414.82 L436.79,414.51 L435.67,414.17 L434.57,413.81 L433.50,413.42 L432.45,413.01 L431.44,412.58 L430.46,412.12 L429.51,411.64 L428.59,411.15 L343.49,363.13 L342.61,362.61 L341.76,362.07 L340.96,361.52 L340.19,360.95 L339.46,360.36 L338.77,359.75 L338.13,359.13 L337.53,358.50 L336.98,357.85 L336.47,357.20 L336.00,356.53 L335.59,355.85 L335.22,355.16 L334.89,354.47 L334.62,353.77 L334.40,353.06 L334.22,352.35 L334.10,351.63 L334.02,350.92 L334.00,350.20 Z" fill="#4a66a0"/>
    <path d="M559.51,323.27 L560.39,323.79 L561.24,324.33 L562.04,324.88 L562.81,325.45 L563.54,326.04 L564.23,326.65 L564.87,327.27 L565.47,327.90 L566.02,328.55 L566.53,329.20 L567.00,329.87 L567.41,330.55 L567.78,331.24 L568.11,331.93 L568.38,332.63 L568.60,333.34 L568.78,334.05 L568.90,334.77 L568.98,335.48 L569.00,336.20 L568.98,336.92 L568.90,337.63 L568.78,338.35 L568.60,339.06 L568.38,339.77 L568.11,340.47 L567.78,341.16 L567.41,341.85 L567.00,342.53 L566.53,343.20 L566.02,343.85 L565.47,344.50 L564.87,345.13 L564.23,345.75 L563.54,346.36 L562.81,346.95 L562.04,347.52 L561.24,348.07 L560.39,348.61 L559.51,349.13 L474.41,397.15 L473.49,397.64 L472.54,398.12 L471.56,398.58 L470.55,399.01 L469.50,399.42 L468.43,399.81 L467.33,400.17 L466.21,400.51 L465.07,400.82 L463.90,401.11 L462.71,401.37 L461.51,401.61 L460.30,401.81 L459.06,402.00 L457.82,402.15 L456.57,402.28 L455.31,402.37 L454.04,402.44 L452.77,402.49 L451.50,402.50 L450.23,402.49 L448.96,402.44 L447.69,402.37 L446.43,402.28 L445.18,402.15 L443.94,402.00 L442.70,401.81 L441.49,401.61 L440.29,401.37 L439.10,401.11 L437.93,400.82 L436.79,400.51 L435.67,400.17 L434.57,399.81 L433.50,399.42 L432.45,399.01 L431.44,398.58 L430.46,398.12 L429.51,397.64 L428.59,397.15 L343.49,349.13 L342.61,348.61 L341.76,348.07 L340.96,347.52 L340.19,346.95 L339.46,346.36 L338.77,345.75 L338.13,345.13 L337.53,344.50 L336.98,343.85 L336.47,343.20 L336.00,342.53 L335.59,341.85 L335.22,341.16 L334.89,340.47 L334.62,339.77 L334.40,339.06 L334.22,338.35 L334.10,337.63 L334.02,336.92 L334.00,336.20 L334.02,335.48 L334.10,334.77 L334.22,334.05 L334.40,333.34 L334.62,332.63 L334.89,331.93 L335.22,331.24 L335.59,330.55 L336.00,329.87 L336.47,329.20 L336.98,328.55 L337.53,327.90 L338.13,327.27 L338.77,326.65 L339.46,326.04 L340.19,325.45 L340.96,324.88 L341.76,324.33 L342.61,323.79 L343.49,323.27 L428.59,275.25 L429.51,274.76 L430.46,274.28 L431.44,273.82 L432.45,273.39 L433.50,272.98 L434.57,272.59 L435.67,272.23 L436.79,271.89 L437.93,271.58 L439.10,271.29 L440.29,271.03 L441.49,270.79 L442.70,270.59 L443.94,270.40 L445.18,270.25 L446.43,270.12 L447.69,270.03 L448.96,269.96 L450.23,269.91 L451.50,269.90 L452.77,269.91 L454.04,269.96 L455.31,270.03 L456.57,270.12 L457.82,270.25 L459.06,270.40 L460.30,270.59 L461.51,270.79 L462.71,271.03 L463.90,271.29 L465.07,271.58 L466.21,271.89 L467.33,272.23 L468.43,272.59 L469.50,272.98 L470.55,273.39 L471.56,273.82 L472.54,274.28 L473.49,274.76 L474.41,275.25 Z" fill="#6980aa"/>
  </g>
  <path d="M332.70,271.40 L332.72,272.12 L332.72,270.68 L332.80,272.84 L332.80,269.96 L332.92,273.56 L333.10,274.27 L333.32,274.98 L333.59,275.69 L333.91,276.39 L334.28,277.08 L334.70,277.76 L335.16,278.43 L335.67,279.09 L336.23,279.74 L336.82,280.37 L337.47,281.00 L338.15,281.60 L338.88,282.19 L339.64,282.77 L340.45,283.33 L341.29,283.87 L342.17,284.39 L427.13,332.62 L428.04,333.12 L428.99,333.60 L429.97,334.06 L430.99,334.49 L432.03,334.91 L433.10,335.29 L434.19,335.66 L435.32,336.00 L436.46,336.31 L437.62,336.60 L438.80,336.87 L440.00,337.10 L441.22,337.31 L442.45,337.49 L443.69,337.65 L444.94,337.77 L446.20,337.87 L447.46,337.94 L448.73,337.99 L450.00,338.00 L451.27,337.99 L452.54,337.94 L453.80,337.87 L455.06,337.77 L456.31,337.65 L457.55,337.49 L458.78,337.31 L460.00,337.10 L461.20,336.87 L462.38,336.60 L463.54,336.31 L464.68,336.00 L465.81,335.66 L466.90,335.29 L467.97,334.91 L469.01,334.49 L470.03,334.06 L471.01,333.60 L471.96,333.12 L472.87,332.62 L557.83,284.39 L558.71,283.87 L559.55,283.33 L560.36,282.77 L561.12,282.19 L561.85,281.60 L562.53,281.00 L563.18,280.37 L563.77,279.74 L564.33,279.09 L564.84,278.43 L565.30,277.76 L565.72,277.08 L566.09,276.39 L566.41,275.69 L566.68,274.98 L566.90,274.27 L567.08,273.56 L567.20,269.96 L567.20,272.84 L567.28,272.12 L567.28,270.68 L567.30,271.40" fill="none" stroke="#b4c0d6" stroke-width="1" opacity="0.6"/>
  <path d="M332.70,271.40 L332.72,270.68 L332.80,269.96 L332.92,269.24 L333.10,268.53 L333.32,267.82 L333.59,267.11 L333.91,266.41 L334.28,265.72 L334.70,265.04 L335.16,264.37 L335.67,263.71 L336.23,263.06 L336.82,262.43 L337.47,261.80 L338.15,261.20 L338.88,260.61 L339.64,260.03 L340.45,259.47 L341.29,258.93 L342.17,258.41 L427.13,210.18 L428.04,209.68 L428.99,209.20 L429.97,208.74 L430.99,208.31 L432.03,207.89 L433.10,207.51 L434.19,207.14 L435.32,206.80 L436.46,206.49 L437.62,206.20 L438.80,205.93 L440.00,205.70 L441.22,205.49 L442.45,205.31 L443.69,205.15 L444.94,205.03 L446.20,204.93 L447.46,204.86 L448.73,204.81 L450.00,204.80 L451.27,204.81 L452.54,204.86 L453.80,204.93 L455.06,205.03 L456.31,205.15 L457.55,205.31 L458.78,205.49 L460.00,205.70 L461.20,205.93 L462.38,206.20 L463.54,206.49 L464.68,206.80 L465.81,207.14 L466.90,207.51 L467.97,207.89 L469.01,208.31 L470.03,208.74 L471.01,209.20 L471.96,209.68 L472.87,210.18 L557.83,258.41 L558.71,258.93 L559.55,259.47 L560.36,260.03 L561.12,260.61 L561.85,261.20 L562.53,261.80 L563.18,262.43 L563.77,263.06 L564.33,263.71 L564.84,264.37 L565.30,265.04 L565.72,265.72 L566.09,266.41 L566.41,267.11 L566.68,267.82 L566.90,268.53 L567.08,269.24 L567.20,269.96 L567.28,270.68 L567.30,271.40 L567.30,286.40 L567.28,287.12 L567.20,287.84 L567.08,288.56 L566.90,289.27 L566.68,289.98 L566.41,290.69 L566.09,291.39 L565.72,292.08 L565.30,292.76 L564.84,293.43 L564.33,294.09 L563.77,294.74 L563.18,295.37 L562.53,296.00 L561.85,296.60 L561.12,297.19 L560.36,297.77 L559.55,298.33 L558.71,298.87 L557.83,299.39 L472.87,347.62 L471.96,348.12 L471.01,348.60 L470.03,349.06 L469.01,349.49 L467.97,349.91 L466.90,350.29 L465.81,350.66 L464.68,351.00 L463.54,351.31 L462.38,351.60 L461.20,351.87 L460.00,352.10 L458.78,352.31 L457.55,352.49 L456.31,352.65 L455.06,352.77 L453.80,352.87 L452.54,352.94 L451.27,352.99 L450.00,353.00 L448.73,352.99 L447.46,352.94 L446.20,352.87 L444.94,352.77 L443.69,352.65 L442.45,352.49 L441.22,352.31 L440.00,352.10 L438.80,351.87 L437.62,351.60 L436.46,351.31 L435.32,351.00 L434.19,350.66 L433.10,350.29 L432.03,349.91 L430.99,349.49 L429.97,349.06 L428.99,348.60 L428.04,348.12 L427.13,347.62 L342.17,299.39 L341.29,298.87 L340.45,298.33 L339.64,297.77 L338.88,297.19 L338.15,296.60 L337.47,296.00 L336.82,295.37 L336.23,294.74 L335.67,294.09 L335.16,293.43 L334.70,292.76 L334.28,292.08 L333.91,291.39 L333.59,290.69 L333.32,289.98 L333.10,289.27 L332.92,288.56 L332.80,287.84 L332.72,287.12 L332.70,286.40 Z M557.83,258.41 L558.71,258.93 L559.55,259.47 L560.36,260.03 L561.12,260.61 L561.85,261.20 L562.53,261.80 L563.18,262.43 L563.77,263.06 L564.33,263.71 L564.84,264.37 L565.30,265.04 L565.72,265.72 L566.09,266.41 L566.41,267.11 L566.68,267.82 L566.90,268.53 L567.08,269.24 L567.20,269.96 L567.28,270.68 L567.30,271.40 L567.28,272.12 L567.20,272.84 L567.08,273.56 L566.90,274.27 L566.68,274.98 L566.41,275.69 L566.09,276.39 L565.72,277.08 L565.30,277.76 L564.84,278.43 L564.33,279.09 L563.77,279.74 L563.18,280.37 L562.53,281.00 L561.85,281.60 L561.12,282.19 L560.36,282.77 L559.55,283.33 L558.71,283.87 L557.83,284.39 L472.87,332.62 L471.96,333.12 L471.01,333.60 L470.03,334.06 L469.01,334.49 L467.97,334.91 L466.90,335.29 L465.81,335.66 L464.68,336.00 L463.54,336.31 L462.38,336.60 L461.20,336.87 L460.00,337.10 L458.78,337.31 L457.55,337.49 L456.31,337.65 L455.06,337.77 L453.80,337.87 L452.54,337.94 L451.27,337.99 L450.00,338.00 L448.73,337.99 L447.46,337.94 L446.20,337.87 L444.94,337.77 L443.69,337.65 L442.45,337.49 L441.22,337.31 L440.00,337.10 L438.80,336.87 L437.62,336.60 L436.46,336.31 L435.32,336.00 L434.19,335.66 L433.10,335.29 L432.03,334.91 L430.99,334.49 L429.97,334.06 L428.99,333.60 L428.04,333.12 L427.13,332.62 L342.17,284.39 L341.29,283.87 L340.45,283.33 L339.64,282.77 L338.88,282.19 L338.15,281.60 L337.47,281.00 L336.82,280.37 L336.23,279.74 L335.67,279.09 L335.16,278.43 L334.70,277.76 L334.28,277.08 L333.91,276.39 L333.59,275.69 L333.32,274.98 L333.10,274.27 L332.92,273.56 L332.80,272.84 L332.72,272.12 L332.70,271.40 L332.72,270.68 L332.80,269.96 L332.92,269.24 L333.10,268.53 L333.32,267.82 L333.59,267.11 L333.91,266.41 L334.28,265.72 L334.70,265.04 L335.16,264.37 L335.67,263.71 L336.23,263.06 L336.82,262.43 L337.47,261.80 L338.15,261.20 L338.88,260.61 L339.64,260.03 L340.45,259.47 L341.29,258.93 L342.17,258.41 L427.13,210.18 L428.04,209.68 L428.99,209.20 L429.97,208.74 L430.99,208.31 L432.03,207.89 L433.10,207.51 L434.19,207.14 L435.32,206.80 L436.46,206.49 L437.62,206.20 L438.80,205.93 L440.00,205.70 L441.22,205.49 L442.45,205.31 L443.69,205.15 L444.94,205.03 L446.20,204.93 L447.46,204.86 L448.73,204.81 L450.00,204.80 L451.27,204.81 L452.54,204.86 L453.80,204.93 L455.06,205.03 L456.31,205.15 L457.55,205.31 L458.78,205.49 L460.00,205.70 L461.20,205.93 L462.38,206.20 L463.54,206.49 L464.68,206.80 L465.81,207.14 L466.90,207.51 L467.97,207.89 L469.01,208.31 L470.03,208.74 L471.01,209.20 L471.96,209.68 L472.87,210.18 Z" fill-rule="evenodd" fill="#c8cad4" opacity="0.2"/>
</svg>

<!-- left heading -->
<div class="abs h" style="left:73px;top:161px;">多通道频响补偿算法的应用<br><span class="dash">---</span>个性化辅听</div>
<!-- right heading -->
<div class="abs h" style="left:613px;top:124px;">提升稳定性和听感、降本增效<br><span class="dash">---</span>提升普及率</div>

<!-- boxes -->
<div class="abs box" style="left:65px;top:233px;width:195px;height:157.5px;"></div>
<div class="abs box" style="left:615px;top:205px;width:204px;height:114px;"></div>

<div class="abs txt" style="left:76px;top:266.5px;width:168px;"><div class="j" style="letter-spacing:0.214px">输入用户的听力测试结果，系统能</div><div class="j" style="letter-spacing:0.214px">自动根据其听损曲线进行<b>个性化增</b></div><div class="j" style="letter-spacing:0.214px"><b>益补偿</b>：哪个频段听损了，就重点</div><div class="j" style="letter-spacing:0.214px">针对该频段进行调整输出，起到定</div><div class="j" style="letter-spacing:0.3px">制化的辅听效果。</div></div>
<div class="abs txt" style="left:625px;top:226.7px;width:180px;"><div class="j" style="letter-spacing:0.37px">老龄化趋势、我国助听器配到率不到</div><div class="j" style="letter-spacing:0.2px"><span class="pct"><i>5%</i></span>，给广大中老人弱听人群提供物美</div><div class="j" style="letter-spacing:0.293px">质优的听力保护及听力辅助方案，助</div><div class="j" style="letter-spacing:0.5px">力实现「全民健康听力」</div></div>

<!-- lines -->
<svg class="abs" style="left:0;top:0" width="900" height="505">
  <g fill="none" stroke="#ffffff" stroke-width="3" opacity="0.6">
  <polyline points="65,215.5 319.5,215.5 347.4,243.2"/>
  <polyline points="837.6,184.5 580,184.5 580,321.8 558.8,343"/>
  </g>
  <polyline points="65,215.5 319.5,215.5 347.4,243.2" fill="none" stroke="#6e7c9c" stroke-width="1.1"/>
  <circle cx="349.3" cy="245" r="2.6" fill="none" stroke="#4a5f90" stroke-width="1.3"/>
  <polyline points="837.6,184.5 580,184.5 580,321.8 558.8,343" fill="none" stroke="#6e7c9c" stroke-width="1.1"/>
  <circle cx="556.8" cy="345" r="2.6" fill="none" stroke="#3e5487" stroke-width="1.3"/>
</svg>
</body>
</html>
